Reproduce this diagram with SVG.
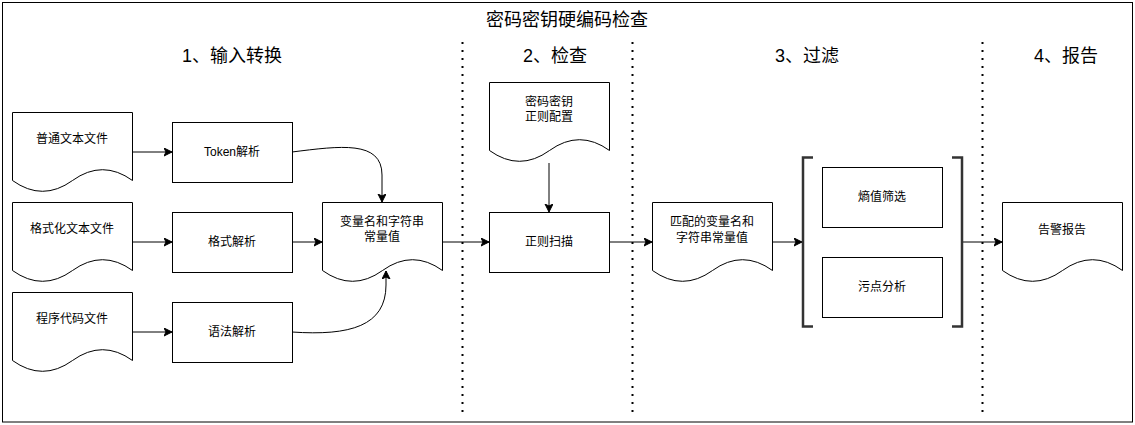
<svg xmlns="http://www.w3.org/2000/svg" xmlns:xlink="http://www.w3.org/1999/xlink" width="1135" height="425" viewBox="0 0 1135 425">
<style>
text{font-family:"Liberation Sans","Noto Sans CJK SC",sans-serif;fill:#000;text-anchor:middle;dominant-baseline:central}
.t{font-size:12px}
.h{font-size:18px}
.box{fill:#fff;stroke:#000;stroke-width:1}
.edge{fill:none;stroke:#000;stroke-width:1;marker-end:url(#arr)}
.dot{stroke:#000;stroke-width:2;stroke-dasharray:2 6;fill:none}
.br{fill:none;stroke:#333;stroke-width:2.5}
</style>
<defs>
<marker id="arr" markerUnits="userSpaceOnUse" markerWidth="10" markerHeight="10" refX="8" refY="4" orient="auto" viewBox="0 0 10 10">
<path d="M0,0 L8,4 L0,8 L2,4 Z" fill="#000" stroke="#000" stroke-width="1"/>
</marker>
<path id="doc" d="M0,0 H120 V68 Q90,46.4 60,68 Q30,89.6 0,68 Z"/>
</defs>
<rect x="2.5" y="2.5" width="1130" height="419.5" fill="#fff" stroke="#000" stroke-width="1"/>
<text class="h" x="567" y="20">密码密钥硬编码检查</text>
<g id="labels">
<text class="h" x="232" y="56">1、输入转换</text>
<text class="h" x="555" y="56">2、检查</text>
<text class="h" x="807" y="56">3、过滤</text>
<text class="h" x="1066" y="56">4、报告</text>
</g>
<g id="separators">
<line class="dot" x1="462.5" y1="42" x2="462.5" y2="414"/>
<line class="dot" x1="632.5" y1="42" x2="632.5" y2="414"/>
<line class="dot" x1="982.5" y1="42" x2="982.5" y2="414"/>
</g>
<g id="connectors">
<path class="edge" d="M132,152 H172"/>
<path class="edge" d="M132,242 H172"/>
<path class="edge" d="M132,332 H172"/>
<path class="edge" d="M292,242 H322"/>
<path class="edge" d="M292,152 C340,146 382,140 382,175 L382,202"/>
<path class="edge" d="M292,332 C350,336 386,326 386,285 L386,271"/>
<path class="edge" d="M442,242 H489"/>
<path class="edge" d="M549,163 V212"/>
<path class="edge" d="M609,242 H652"/>
<path class="edge" d="M772,242 H802"/>
<path class="edge" d="M963,242 H1002"/>
</g>
<g id="doc-plain"><use xlink:href="#doc" class="box" x="12.5" y="112.5"/><text class="t" x="72" y="139">普通文本文件</text></g>
<g id="doc-format"><use xlink:href="#doc" class="box" x="12.5" y="202.5"/><text class="t" x="72" y="229">格式化文本文件</text></g>
<g id="doc-code"><use xlink:href="#doc" class="box" x="12.5" y="292.5"/><text class="t" x="72" y="319">程序代码文件</text></g>
<g id="token"><rect class="box" x="172.5" y="122.5" width="120" height="60"/><text class="t" x="232" y="152">Token解析</text></g>
<g id="format-parse"><rect class="box" x="172.5" y="212.5" width="120" height="60"/><text class="t" x="232" y="242">格式解析</text></g>
<g id="syntax-parse"><rect class="box" x="172.5" y="302.5" width="120" height="60"/><text class="t" x="232" y="332">语法解析</text></g>
<g id="vars"><use xlink:href="#doc" class="box" x="322.5" y="202.5"/><text class="t" x="382" y="222">变量名和字符串</text><text class="t" x="382" y="237">常量值</text></g>
<g id="regex-config"><use xlink:href="#doc" class="box" x="489.5" y="82.5"/><text class="t" x="549" y="102">密码密钥</text><text class="t" x="549" y="117">正则配置</text></g>
<g id="regex-scan"><rect class="box" x="489.5" y="212.5" width="120" height="60"/><text class="t" x="549" y="242">正则扫描</text></g>
<g id="matched"><use xlink:href="#doc" class="box" x="652.5" y="202.5"/><text class="t" x="712" y="222">匹配的变量名和</text><text class="t" x="712" y="238">字符串常量值</text></g>
<g id="filter-group">
<path class="br" d="M813,157.5 H803 V326.5 H813"/>
<path class="br" d="M952,157.5 H962 V326.5 H952"/>
</g>
<g id="entropy"><rect class="box" x="822.5" y="167.5" width="120" height="60"/><text class="t" x="882" y="197">熵值筛选</text></g>
<g id="taint"><rect class="box" x="822.5" y="257.5" width="120" height="60"/><text class="t" x="882" y="287">污点分析</text></g>
<g id="report"><use xlink:href="#doc" class="box" x="1002.5" y="202.5"/><text class="t" x="1062" y="230">告警报告</text></g>
</svg>
